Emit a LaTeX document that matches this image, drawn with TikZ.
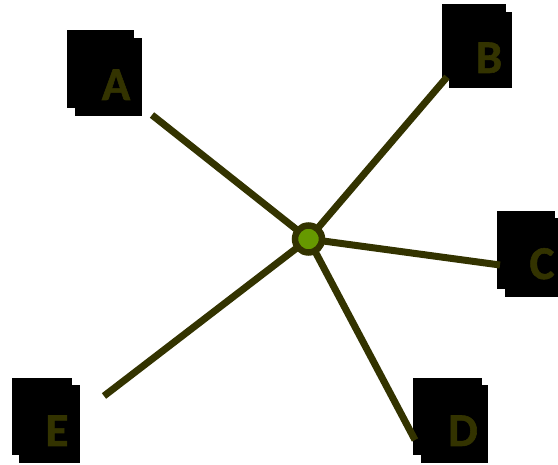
\documentclass[tikz,border=0pt]{standalone}
\usepackage{fontspec}
\setmainfont{Carlito}
\newfontfamily\lblfont[BoldFeatures={FakeBold=1.2}]{Carlito}
\definecolor{olive}{HTML}{333300}
\definecolor{hubgreen}{HTML}{669900}
\begin{document}
\begin{tikzpicture}[x=1pt,y=-1pt,
  spoke/.style={draw=olive,line width=7pt},
  hub/.style={circle,draw=olive,fill=hubgreen,line width=6.5pt,minimum size=27pt,inner sep=0pt},
  backbox/.style={fill=black},
  frontbox/.style={fill=black},
  lbl/.style={text=olive,font=\lblfont\fontsize{47}{47}\selectfont\bfseries,anchor=base,inner sep=0pt}]
\useasboundingbox (0,0) rectangle (558,465);
% boxes
\fill[backbox] (67,30) rectangle (134,108);
\fill[frontbox] (75,38) rectangle (142,116);
\fill[backbox] (442,4) rectangle (506,80);
\fill[frontbox] (449,12) rectangle (512,88);
\fill[backbox] (497,211) rectangle (555,289);
\fill[frontbox] (505,218) rectangle (558,297);
\fill[backbox] (413,378) rectangle (482,455);
\fill[frontbox] (421,385) rectangle (488,463);
\fill[backbox] (12,378) rectangle (72,455);
\fill[frontbox] (19,385) rectangle (80,463);
% labels
\node[lbl] (A) at (116,100) {A};
\node[lbl] (B) at (489,73) {B};
\node[lbl] (C) at (542,279) {C};
\node[lbl] (D) at (463,446) {D};
\node[lbl] (E) at (57,446) {E};
% spoke ends
\coordinate (a) at (152,115);
\coordinate (b) at (447,77);
\coordinate (c) at (500,265);
\coordinate (d) at (415,440);
\coordinate (e) at (104,396);
\coordinate (hc) at (308.5,239);
\draw[spoke] (hc) -- (a);
\draw[spoke] (hc) -- (b);
\draw[spoke] (hc) -- (c);
\draw[spoke] (hc) -- (d);
\draw[spoke] (hc) -- (e);
\node[hub] (hub) at (hc) {};
\end{tikzpicture}
\end{document}
